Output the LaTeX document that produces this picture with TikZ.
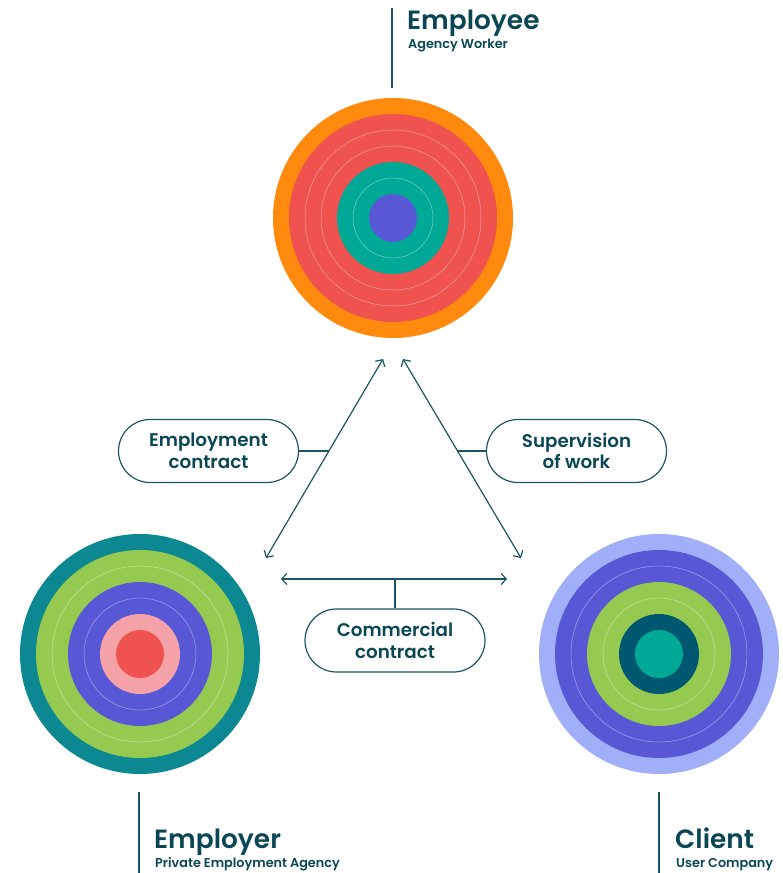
\documentclass[tikz,border=0pt]{standalone}
\usepackage{fontspec}
\setmainfont{Poppins}
\newfontfamily\medfont{Poppins Medium}
\newfontfamily\semifont{Poppins SemiBold}
\usetikzlibrary{positioning}
\usetikzlibrary{arrows.meta}

\definecolor{ink}{HTML}{0A4656}
\definecolor{wire}{HTML}{1D5367}
\definecolor{tangerine}{HTML}{FF8A0D}
\definecolor{coral}{HTML}{EF524F}
\definecolor{jade}{HTML}{00A896}
\definecolor{violet}{HTML}{5858D6}
\definecolor{petrol}{HTML}{0B8892}
\definecolor{lime}{HTML}{95C950}
\definecolor{blush}{HTML}{F4A2A7}
\definecolor{periwinkle}{HTML}{A0AFF7}
\definecolor{deepsea}{HTML}{005870}

\tikzset{
  ring/.style={circle,inner sep=0pt,minimum size=240pt},
  seam/.style={draw=white,draw opacity=.45,line width=.5pt},
  wire/.style={draw=wire,line width=1.2pt},
  link/.style={wire,{Straight Barb[length=5pt,width=11pt]}-{Straight Barb[length=5pt,width=11pt]}},
  pill/.style={wire,rounded corners=31.5pt,minimum width=180pt,minimum height=63pt,
    align=center,text=ink,font=\semifont\fontsize{18.3}{21.5}\selectfont},
  head/.style={anchor=base west,inner sep=0pt,text=ink,font=\semifont\fontsize{26.4}{30}\selectfont},
  subhead/.style={anchor=base west,inner sep=0pt,text=ink,font=\semifont\fontsize{12.8}{15}\selectfont}
}

\begin{document}
\begin{tikzpicture}[x=1pt,y=-1pt]
  \useasboundingbox (0,0) rectangle (783,873);

  % the three targets
  \node[ring,fill=tangerine] (employee) at (393,218) {};
  \foreach \r/\c in {104/coral,88/coral,72/coral,56/jade,40/jade,24/violet}
    \fill[\c] (employee.center) circle (\r pt);
  \foreach \r in {88,72,40}
    \path[seam] (employee.center) circle (\r pt);

  \node[ring,fill=petrol] (employer) at (140,654) {};
  \foreach \r/\c in {104/lime,88/lime,72/violet,56/violet,40/blush,24/coral}
    \fill[\c] (employer.center) circle (\r pt);
  \foreach \r in {88,56}
    \path[seam] (employer.center) circle (\r pt);

  \node[ring,fill=periwinkle] (client) at (659,654) {};
  \foreach \r/\c in {104/violet,88/violet,72/lime,56/lime,40/deepsea,24/jade}
    \fill[\c] (client.center) circle (\r pt);
  \foreach \r in {88,56}
    \path[seam] (client.center) circle (\r pt);

  % titles
  \node[head] (eeTitle) at (407,29.5) {Employee};
  \node[subhead] (eeSub) at (408,48.7) {Agency Worker};
  \node[head] (erTitle) at (154,848) {Employer};
  \node[subhead] (erSub) at (155,867) {Private Employment Agency};
  \node[head] (clTitle) at (675,848) {Client};
  \node[subhead] (clSub) at (676,867) {User Company};
  \path[wire] (392,8) -- (392,88);
  \path[wire] (139,792) -- (139,873);
  \path[wire] (659,792) -- (659,873);

  % relations
  \coordinate (eeLeft) at (383,359);
  \coordinate (eeRight) at (403,359);
  \coordinate (erTop) at (266,558);
  \coordinate (clTop) at (521,558);
  \coordinate (erSide) at (281,579);
  \coordinate (clSide) at (507,579);
  \path[link] (eeLeft) -- (erTop);
  \path[link] (eeRight) -- (clTop);
  \path[link] (erSide) -- (clSide);

  \node[pill] (empContract) at (208.5,451) {Employment\\contract};
  \node[pill] (supWork) at (576.5,451) {Supervision\\of work};
  \node[pill] (comContract) at (395,640.5) {Commercial\\contract};
  \coordinate (empJoin) at (329,451);
  \coordinate (supJoin) at (457.5,451);
  \path[wire] (empContract.east) -- (empJoin);
  \path[wire] (supWork.west) -- (supJoin);
  \path[wire] (comContract.north) -- (comContract.north |- erSide);
\end{tikzpicture}
\end{document}
